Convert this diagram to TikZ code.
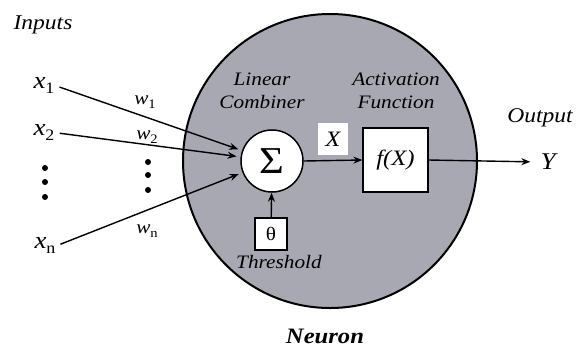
\documentclass[tikz,border=0pt]{standalone}
\usepackage{fontspec}
\setmainfont{Liberation Serif}[FakeStretch=1.12]
\usetikzlibrary{arrows.meta}
\definecolor{neurongray}{RGB}{168,168,178}
\begin{document}
\begin{tikzpicture}[x=1pt,y=-1pt,
  lbl/.style={font=\fontsize{19}{23}\selectfont\itshape, inner sep=0pt, align=center},
  biglbl/.style={font=\fontsize{21}{24}\selectfont\itshape, inner sep=0pt},
  inp/.style={font=\fontsize{24}{26}\selectfont, inner sep=1pt},
  wgt/.style={font=\fontsize{19}{21}\selectfont, inner sep=0pt},
  dotnode/.style={circle, fill=black, inner sep=0pt, minimum size=6pt},
  arr/.style={line width=1.4pt, -{Stealth[length=9pt,width=7pt]}},
  wbox/.style={fill=white, draw=black, line width=1.3pt, inner sep=0pt}
]
\useasboundingbox (0,0) rectangle (580,349);
% neuron body
\node[circle, draw=black, line width=2pt, fill=neurongray, minimum size=294pt, inner sep=0pt] (neuron) at (330,161) {};
% inputs
\node[biglbl] (inputs) at (43,25) {Inputs};
\node[inp] (x1) at (44,85) {\itshape x\raisebox{-5pt}{\fontsize{16}{18}\selectfont\upshape 1}};
\node[inp] (x2) at (44,132) {\itshape x\raisebox{-5pt}{\fontsize{16}{18}\selectfont\upshape 2}};
\node[inp] (xn) at (45,245) {\itshape x\raisebox{-5pt}{\fontsize{16}{18}\selectfont\upshape n}};
\node[dotnode] (dl1) at (45,168) {};
\node[dotnode] (dl2) at (45,182) {};
\node[dotnode] (dl3) at (45,197) {};
\node[dotnode] (dr1) at (148,162) {};
\node[dotnode] (dr2) at (148,175) {};
\node[dotnode] (dr3) at (148,190) {};
% weights
\node[wgt] (w1) at (145,102) {\itshape w\raisebox{-4pt}{\fontsize{13}{15}\selectfont\upshape 1}};
\node[wgt] (w2) at (147,137) {\itshape w\raisebox{-4pt}{\fontsize{13}{15}\selectfont\upshape 2}};
\node[wgt] (wn) at (147,231) {\itshape w\raisebox{-4pt}{\fontsize{13}{15}\selectfont\upshape n}};
% summing junction
\node[circle, fill=white, draw=black, line width=1.5pt, minimum size=62pt, inner sep=0pt,
      font=\fontsize{38}{40}\selectfont] (sig) at (272,161) {Σ};
\node[wbox, minimum width=32pt, minimum height=32pt, font=\fontsize{19}{21}\selectfont] (theta) at (271,234) {θ};
\node[fill=white, inner sep=0pt, minimum width=30pt, minimum height=32pt, font=\fontsize{22}{24}\selectfont\itshape] (X) at (333,139) {X};
\node[wbox, minimum width=65pt, minimum height=64pt, font=\fontsize{22}{24}\selectfont\itshape] (fx) at (395.5,160) {f(X)};
% labels
\node[lbl] (lc) at (262,91) {Linear\\Combiner};
\node[lbl] (af) at (396,91) {Activation\\Function};
\node[lbl] (thr) at (279,262) {Threshold};
\node[biglbl] (out) at (540,118) {Output};
\node[font=\fontsize{24}{26}\selectfont\itshape, inner sep=0pt] (Y) at (548,162) {Y};
\node[font=\fontsize{22}{24}\selectfont\bfseries\itshape, inner sep=0pt] (neu) at (325,336) {Neuron};
% connectors
\draw[arr, shorten <=4pt, shorten >=4pt] (x1.mid east) -- (sig);
\draw[arr, shorten <=4pt, shorten >=4pt] (x2.mid east) -- (sig);
\draw[arr, shorten <=4pt, shorten >=4pt] (xn.mid east) -- (sig);
\draw[arr] (theta) -- (sig);
\draw[arr] (sig.east) -- (fx.west);
\draw[arr, shorten >=10pt] (fx.east) -- (Y.west);
\end{tikzpicture}
\end{document}
